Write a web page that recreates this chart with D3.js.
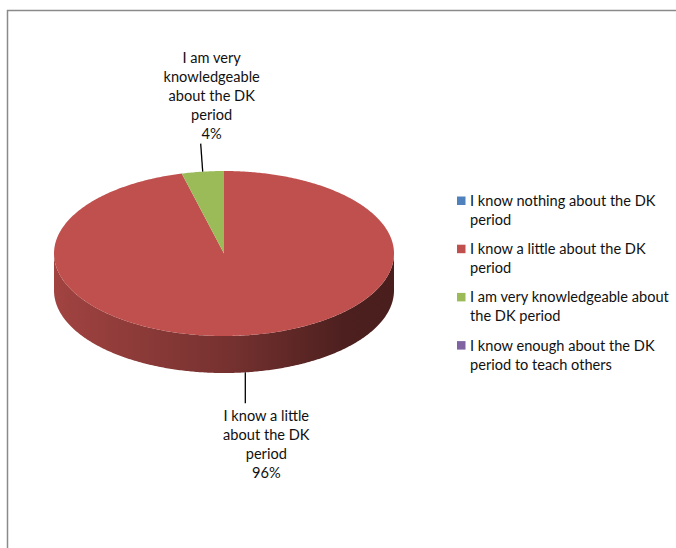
<!DOCTYPE html>
<html>
<head>
<meta charset="utf-8">
<script src="https://cdn.jsdelivr.net/npm/d3@7"></script>
<style>
  html, body { margin: 0; padding: 0; background: #fff; }
  svg { display: block; }
  text { font-family: Lato, "Open Sans", sans-serif; fill: #111; }
</style>
</head>
<body>
<svg id="chart" width="676" height="548"></svg>
<script>
// Survey responses: knowledge of the DK period
const categories = [
  "I know nothing about the DK period",
  "I know a little about the DK period",
  "I am very knowledgeable about the DK period",
  "I know enough about the DK period to teach others"
];
const percents = [0, 96, 4, 0];
const colors = ["#4F81BD", "#C0504D", "#9BBB59", "#8064A2"];
const legendLines = [
  ["I know nothing about the DK", "period"],
  ["I know a little about the DK", "period"],
  ["I am very knowledgeable about", "the DK period"],
  ["I know enough about the DK", "period to teach others"]
];
const dataLabelLines = [
  null,
  ["I know a little", "about the DK", "period"],
  ["I am very", "knowledgeable", "about the DK", "period"],
  null
];

const svg = d3.select("#chart");

// chart frame (runs off the right and bottom edges)
svg.append("rect")
  .attr("x", 7.5).attr("y", 10.5)
  .attr("width", 700).attr("height", 560)
  .attr("fill", "#fff")
  .attr("stroke", "#8a8a8a")
  .attr("stroke-width", 1.5);

// 3D pie geometry
const cx = 224, cy = 253.5, rx = 170, ry = 82.5, depth = 37;
const pt = (a, dy = 0) => [cx + rx * Math.sin(a), cy - ry * Math.cos(a) + dy];

const pie = d3.pie().sort(null).value(d => d.value)
  .startAngle(0).endAngle(2 * Math.PI);
const data = categories.map((c, i) => ({ name: c, value: percents[i], color: colors[i], idx: i }));
const arcs = pie(data).filter(a => a.data.value > 0);

const defs = svg.append("defs");
function sideGradient(id, base) {
  const c = d3.color(base);
  const g = defs.append("linearGradient").attr("id", id)
    .attr("gradientUnits", "userSpaceOnUse")
    .attr("x1", cx - rx).attr("x2", cx + rx).attr("y1", 0).attr("y2", 0);
  g.append("stop").attr("offset", "0%").attr("stop-color", d3.interpolateRgb(c, "#000")(0.16));
  g.append("stop").attr("offset", "50%").attr("stop-color", d3.interpolateRgb(c, "#000")(0.38));
  g.append("stop").attr("offset", "85%").attr("stop-color", d3.interpolateRgb(c, "#000")(0.6));
  g.append("stop").attr("offset", "100%").attr("stop-color", d3.interpolateRgb(c, "#000")(0.62));
}
arcs.forEach(a => sideGradient("side" + a.data.idx, a.data.color));

function sample(a0, a1, dy) {
  const n = Math.max(2, Math.ceil(Math.abs(a1 - a0) / 0.01));
  return d3.range(n + 1).map(k => pt(a0 + (a1 - a0) * k / n, dy));
}

// outer side walls (front half only)
const sides = svg.append("g");
arcs.forEach(a => {
  const s = Math.max(a.startAngle, Math.PI / 2);
  const e = Math.min(a.endAngle, 3 * Math.PI / 2);
  if (e <= s) return;
  const top = sample(s, e, 0);
  const bot = sample(e, s, depth);
  sides.append("path")
    .attr("d", d3.line()(top.concat(bot)) + "Z")
    .attr("fill", `url(#side${a.data.idx})`);
});

// top faces
const tops = svg.append("g");
arcs.forEach(a => {
  const pts = [[cx, cy]].concat(sample(a.startAngle, a.endAngle, 0));
  tops.append("path")
    .attr("d", d3.line()(pts) + "Z")
    .attr("fill", a.data.color);
});

// data labels with leader lines
const labelG = svg.append("g").attr("font-size", 14.6).attr("text-anchor", "middle");
arcs.forEach(a => {
  const lines = dataLabelLines[a.data.idx];
  if (!lines) return;
  const mid = (a.startAngle + a.endAngle) / 2;
  const front = Math.cos(mid) < 0;
  const anchor = pt(mid, front ? depth : 0);
  const all = lines.concat([d3.format(".0%")(a.data.value / 100)]);
  let end, tx, firstY;
  if (front) {
    end = [anchor[0], anchor[1] + 31];
    tx = anchor[0] + 21;
    firstY = end[1] + 18;
  } else {
    end = [anchor[0] - 2, anchor[1] - 28];
    tx = anchor[0] + 9;
    firstY = end[1] - 5 - 19 * (all.length - 1);
  }
  labelG.append("line")
    .attr("x1", anchor[0]).attr("y1", anchor[1])
    .attr("x2", end[0]).attr("y2", end[1])
    .attr("stroke", "#000").attr("stroke-width", 1.3);
  const t = labelG.append("text").attr("x", tx).attr("y", firstY);
  all.forEach((l, k) => {
    t.append("tspan").attr("x", tx).attr("y", firstY + k * 19).text(l);
  });
});

// legend
const legend = svg.append("g").attr("font-size", 14.6);
legendLines.forEach((lines, i) => {
  const y0 = 201 + i * 48.2;
  legend.append("rect")
    .attr("x", 457).attr("y", y0 - 4.5)
    .attr("width", 8.5).attr("height", 8.5)
    .attr("fill", colors[i]);
  const t = legend.append("text");
  lines.forEach((l, k) => {
    t.append("tspan").attr("x", 470).attr("y", y0 + 5 + k * 19).text(l);
  });
});
</script>
</body>
</html>
